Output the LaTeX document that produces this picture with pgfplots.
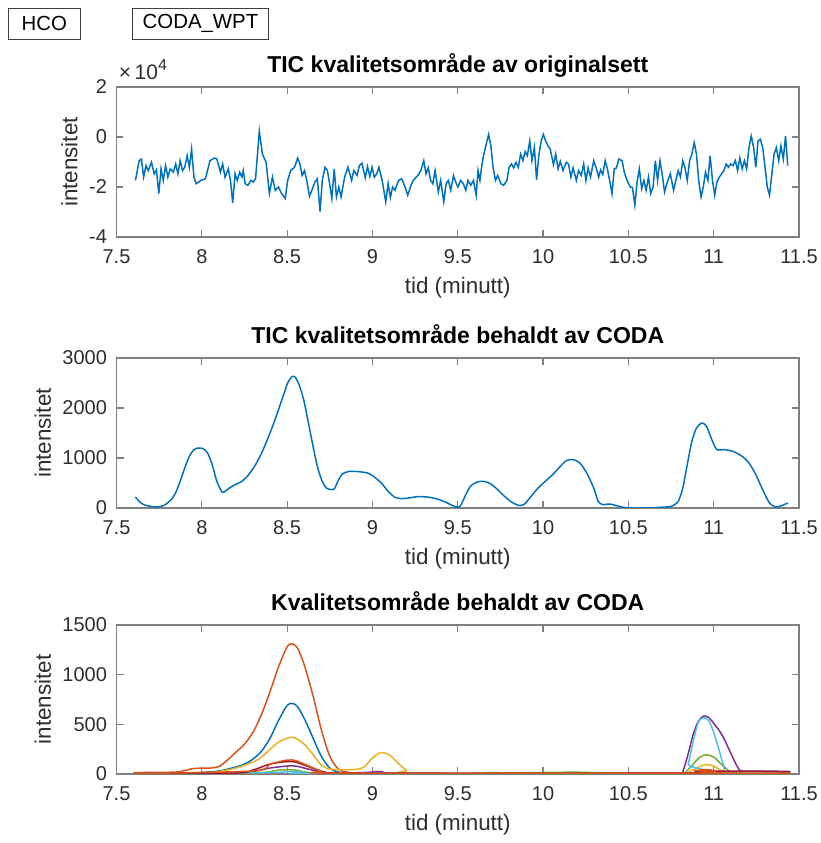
\documentclass[border=0pt]{standalone}
\usepackage{fontspec}
\setmainfont{Liberation Sans}
\usepackage{pgfplots}
\pgfplotsset{compat=1.18}
\definecolor{axisgray}{rgb}{0.50,0.50,0.50}
\definecolor{textgray}{rgb}{0.18,0.18,0.18}
\definecolor{mc1}{rgb}{0,0.447,0.741}
\definecolor{mc2}{rgb}{0.850,0.325,0.098}
\definecolor{mc3}{rgb}{0.929,0.694,0.125}
\definecolor{mc4}{rgb}{0.494,0.184,0.556}
\definecolor{mc5}{rgb}{0.466,0.674,0.188}
\definecolor{mc6}{rgb}{0.301,0.745,0.933}
\definecolor{mc7}{rgb}{0.635,0.078,0.184}
\pgfplotsset{
  matlab/.style={
    scale only axis, width=341.25bp, height=75bp,
    xmin=7.5, xmax=11.5,
    xtick={7.5,8,8.5,9,9.5,10,10.5,11,11.5},
    tick align=inside, major tick length=3.5bp,
    axis line style={draw=axisgray, line width=0.6bp},
    every tick/.style={draw=axisgray, line width=0.6bp},
    /pgf/number format/assume math mode=true,
    /pgf/number format/1000 sep={},
    tick label style={font=\fontsize{10bp}{12bp}\selectfont, text=textgray},
    xticklabel style={anchor=north, inner sep=0pt, yshift=-6.3bp},
    yticklabel style={anchor=east, inner sep=0pt, xshift=-4.6bp},
    xlabel={tid (minutt)},
    ylabel={intensitet},
    label style={font=\fontsize{11.2bp}{13bp}\selectfont, text=textgray},
    xlabel style={at={(axis description cs:0.5,0)}, anchor=center, yshift=-25.5bp},
    ylabel style={at={(ticklabel cs:0.5)}, anchor=south, inner xsep=0pt, inner ysep=5.5bp},
    title style={at={(axis description cs:0.5,1)}, anchor=base, yshift=1.5bp,
      font=\bfseries\fontsize{11.5bp}{13bp}\selectfont, text=black},
    every axis plot/.append style={line width=0.75bp, mark=none},
    scaled y ticks=false,
  }
}
\begin{document}
\begin{tikzpicture}
\useasboundingbox (0,0) rectangle (410.5bp,421.5bp);
\fill[white] (0,0) rectangle (410.5bp,421.5bp);
% top boxes
\node[draw=black!75, line width=0.7bp, minimum width=36bp, minimum height=15.5bp, inner sep=0pt,
  font=\fontsize{10.2bp}{12bp}\selectfont] at (22.2bp,409.6bp) {HCO};
\node[draw=black!75, line width=0.7bp, minimum width=67.8bp, minimum height=15.5bp, inner sep=0pt,
  font=\fontsize{10.2bp}{12bp}\selectfont] at (100.25bp,409.6bp) {CODA\_WPT};

% ---------- axis 1 ----------
\begin{axis}[matlab, name=ax1, at={(58.25bp,303bp)}, anchor=south west,
  ymin=-4, ymax=2, ytick={-4,-2,0,2}, yticklabels={-4,-2,0,2},
  title={TIC kvalitetsområde av originalsett}]
\addplot[color=mc1] table {
7.611 -1.737
7.633 -0.947
7.646 -0.882
7.659 -1.605
7.673 -1.145
7.686 -1.342
7.705 -1.013
7.721 -1.474
7.734 -1.316
7.748 -2.263
7.761 -1.276
7.774 -1.737
7.788 -1.145
7.801 -1.605
7.815 -1.276
7.833 -1.408
7.847 -1.079
7.860 -1.474
7.873 -0.947
7.887 -1.342
7.900 -1.211
7.914 -0.750
7.927 -1.211
7.940 -0.487
7.954 -1.605
7.967 -1.868
7.994 -1.737
8.021 -1.671
8.048 -0.947
8.074 -0.842
8.088 -0.882
8.109 -1.408
8.122 -1.079
8.136 -1.605
8.155 -1.276
8.168 -1.737
8.181 -2.632
8.195 -1.474
8.208 -1.737
8.222 -1.408
8.235 -1.605
8.243 -1.342
8.254 -1.868
8.270 -1.934
8.288 -1.737
8.302 -1.803
8.315 -1.671
8.337 0.237
8.355 -0.684
8.377 -1.013
8.396 -2.263
8.414 -1.605
8.430 -2.132
8.449 -2.000
8.468 -2.263
8.489 -2.461
8.503 -1.737
8.521 -1.342
8.543 -1.211
8.562 -0.842
8.575 -1.079
8.588 -1.539
8.602 -1.342
8.615 -1.737
8.631 -2.368
8.645 -2.132
8.663 -1.803
8.677 -1.671
8.693 -2.987
8.706 -1.737
8.722 -1.211
8.736 -1.342
8.749 -1.868
8.762 -2.461
8.776 -1.276
8.789 -2.395
8.803 -2.000
8.816 -2.395
8.837 -1.605
8.856 -1.211
8.878 -1.737
8.891 -1.342
8.910 -1.539
8.923 -1.145
8.939 -1.053
8.958 -1.632
8.971 -1.184
8.985 -1.579
8.998 -1.211
9.011 -1.605
9.025 -1.474
9.038 -1.211
9.057 -1.737
9.078 -2.592
9.092 -1.868
9.105 -2.421
9.118 -2.000
9.132 -2.132
9.153 -1.737
9.172 -1.671
9.191 -2.000
9.207 -2.329
9.226 -1.934
9.239 -1.737
9.266 -1.539
9.284 -1.342
9.301 -0.947
9.314 -1.474
9.327 -1.237
9.341 -1.737
9.354 -1.868
9.367 -1.342
9.386 -2.197
9.400 -1.737
9.418 -2.592
9.432 -1.868
9.445 -1.737
9.459 -2.132
9.475 -1.539
9.488 -1.803
9.501 -2.000
9.517 -1.737
9.533 -1.868
9.547 -2.132
9.560 -1.737
9.576 -1.934
9.592 -1.737
9.608 -2.329
9.619 -1.342
9.630 -1.737
9.641 -1.145
9.651 -0.750
9.667 -0.289
9.681 0.105
9.694 -0.355
9.707 -1.211
9.721 -1.737
9.734 -1.539
9.753 -1.868
9.769 -1.934
9.788 -1.737
9.801 -1.211
9.815 -1.079
9.828 -1.237
9.841 -1.013
9.855 -1.211
9.868 -0.684
9.882 -0.947
9.895 -0.579
9.908 -0.750
9.922 -0.158
9.935 -0.947
9.949 -0.421
9.962 -1.711
9.975 -0.750
9.989 -0.158
10.002 0.105
10.015 -0.158
10.029 -0.355
10.042 -0.487
10.061 -1.105
10.074 -0.684
10.088 -1.276
10.101 -0.974
10.117 -1.342
10.136 -1.013
10.149 -1.079
10.163 -1.605
10.176 -1.237
10.195 -1.737
10.208 -1.342
10.224 -1.539
10.238 -1.079
10.251 -1.737
10.264 -1.237
10.278 -1.605
10.297 -0.947
10.310 -1.211
10.326 -1.605
10.337 -1.316
10.350 -1.500
10.364 -0.947
10.377 -1.276
10.390 -1.737
10.404 -2.263
10.417 -1.276
10.430 -1.237
10.444 -0.882
10.463 -0.947
10.476 -1.408
10.492 -1.737
10.511 -2.000
10.524 -2.026
10.538 -2.724
10.551 -1.803
10.564 -1.276
10.578 -2.066
10.591 -1.737
10.604 -2.132
10.618 -1.605
10.631 -2.263
10.645 -2.000
10.658 -0.947
10.671 -1.737
10.685 -0.947
10.698 -1.474
10.712 -2.197
10.730 -1.763
10.746 -1.474
10.765 -2.132
10.778 -1.737
10.792 -1.342
10.805 -1.605
10.819 -0.947
10.832 -1.237
10.845 -1.737
10.859 -0.947
10.872 -0.684
10.886 -0.224
10.899 -0.684
10.912 -1.737
10.926 -2.395
10.939 -2.000
10.952 -1.408
10.966 -1.737
10.979 -0.750
10.993 -1.737
11.006 -2.329
11.019 -1.803
11.033 -1.605
11.046 -1.474
11.060 -1.342
11.073 -1.079
11.086 -1.211
11.100 -1.079
11.113 -1.145
11.127 -0.947
11.140 -1.342
11.153 -0.842
11.167 -1.276
11.180 -0.947
11.193 -1.276
11.207 -0.421
11.220 0.039
11.234 -0.421
11.247 -1.211
11.260 -0.158
11.274 -0.092
11.287 -0.421
11.301 -1.211
11.314 -2.000
11.327 -2.329
11.341 -1.474
11.354 -0.684
11.367 -0.421
11.381 -0.947
11.394 -0.355
11.408 -0.882
11.421 0.039
11.434 -1.145
};
\end{axis}
\node[anchor=base west, inner sep=0pt, text=textgray, font=\fontsize{10.5bp}{12bp}\selectfont]
  at ([xshift=1bp,yshift=3.5bp]ax1.north west) {×\,10\raisebox{0.45em}{\fontsize{8bp}{9bp}\selectfont 4}};

% ---------- axis 2 ----------
\begin{axis}[matlab, at={(58.25bp,167.5bp)}, anchor=south west,
  ymin=0, ymax=3000, ytick={0,1000,2000,3000},
  title={TIC kvalitetsområde behaldt av CODA}]
\addplot[color=mc1, smooth, tension=0.4] table {
7.611 220
7.633 133
7.659 67
7.699 33
7.739 20
7.779 53
7.820 167
7.846 300
7.873 533
7.900 800
7.927 1033
7.954 1167
7.980 1200
8.007 1187
8.034 1100
8.061 867
8.088 533
8.120 313
8.141 347
8.168 413
8.195 467
8.235 533
8.275 667
8.315 867
8.355 1133
8.396 1467
8.436 1833
8.476 2233
8.503 2500
8.530 2633
8.548 2613
8.570 2467
8.597 2167
8.623 1733
8.650 1267
8.677 833
8.704 547
8.730 400
8.757 367
8.778 387
8.797 533
8.824 680
8.864 733
8.918 727
8.971 700
9.011 620
9.052 500
9.092 333
9.132 213
9.172 187
9.212 200
9.266 227
9.320 220
9.373 187
9.427 120
9.467 53
9.501 13
9.520 67
9.547 267
9.574 433
9.614 520
9.654 533
9.694 480
9.734 367
9.774 233
9.815 120
9.855 53
9.887 67
9.922 200
9.962 367
10.002 500
10.056 667
10.096 813
10.136 947
10.176 967
10.216 900
10.256 700
10.297 400
10.323 133
10.350 67
10.390 80
10.430 47
10.471 13
10.524 0
10.578 0
10.631 3
10.685 13
10.752 33
10.792 133
10.819 400
10.845 867
10.872 1333
10.899 1600
10.931 1700
10.958 1633
10.993 1333
11.019 1167
11.060 1167
11.113 1133
11.167 1033
11.207 900
11.247 667
11.287 367
11.327 100
11.367 20
11.402 53
11.434 100
};
\end{axis}

% ---------- axis 3 ----------
\begin{axis}[matlab, at={(58.25bp,34.5bp)}, anchor=south west, height=74.5bp,
  ymin=0, ymax=1500, ytick={0,500,1000,1500},
  title={Kvalitetsområde behaldt av CODA},
  every axis plot/.append style={smooth, tension=0.5}]
% blue
\addplot[color=mc1] table {
7.6 10
7.9 12
8.0 15
8.1 30
8.2 70
8.25 100
8.3 150
8.35 230
8.4 360
8.45 540
8.5 690
8.53 710
8.56 680
8.6 560
8.65 370
8.7 180
8.75 60
8.8 20
8.9 10
9.5 5
10.5 5
11.45 5
};
% orange
\addplot[color=mc2] table {
7.6 15
7.85 20
7.95 55
8.05 60
8.1 75
8.15 140
8.2 220
8.25 300
8.3 420
8.35 600
8.4 830
8.45 1080
8.5 1280
8.53 1310
8.56 1270
8.6 1100
8.65 800
8.7 450
8.75 180
8.8 50
8.85 20
8.9 10
9.2 5
10.5 5
11.45 5
};
% yellow
\addplot[color=mc3] table {
7.6 5
8.0 10
8.1 25
8.2 60
8.3 120
8.35 170
8.4 250
8.45 320
8.5 360
8.53 370
8.56 350
8.6 300
8.65 200
8.7 90
8.75 50
8.8 45
8.9 45
8.95 70
9.0 160
9.05 215
9.1 190
9.15 110
9.2 35
9.25 5
10.8 5
10.85 15
10.9 60
10.95 95
11.0 80
11.05 30
11.1 5
11.45 5
};
% purple
\addplot[color=mc4] table {
7.6 5
8.2 8
8.3 25
8.4 60
8.5 80
8.55 80
8.6 60
8.7 20
8.8 10
8.95 15
9.05 25
9.1 10
9.5 5
10.0 10
10.5 5
10.8 5
10.82 30
10.85 200
10.88 400
10.91 530
10.94 583
10.97 570
11.0 510
11.05 390
11.1 210
11.14 70
11.17 30
11.3 30
11.45 25
};
% green
\addplot[color=mc5] table {
7.6 5
8.3 10
8.45 40
8.55 40
8.7 10
9.5 5
9.7 15
9.8 10
10.0 15
10.2 18
10.4 10
10.8 5
10.83 10
10.87 80
10.92 170
10.96 193
11.0 170
11.05 90
11.1 20
11.15 8
11.45 5
};
% light blue
\addplot[color=mc6] table {
7.6 3
8.4 15
8.5 25
8.6 15
8.7 5
10.82 5
10.85 100
10.88 330
10.91 520
10.94 565
10.97 540
11.0 420
11.03 250
11.06 80
11.09 10
11.45 5
};
% dark red
\addplot[color=mc7] table {
7.6 5
8.2 10
8.3 40
8.4 100
8.5 125
8.55 120
8.6 90
8.7 30
8.8 10
9.5 5
10.85 10
10.9 25
10.95 30
11.0 30
11.3 25
11.45 20
};
% orange small
\addplot[color=mc2] table {
7.6 5
8.3 30
8.4 100
8.5 140
8.55 135
8.6 100
8.7 30
8.8 8
10.85 8
10.9 35
10.95 45
11.0 35
11.05 10
11.45 5
};
\end{axis}
\end{tikzpicture}
\end{document}
